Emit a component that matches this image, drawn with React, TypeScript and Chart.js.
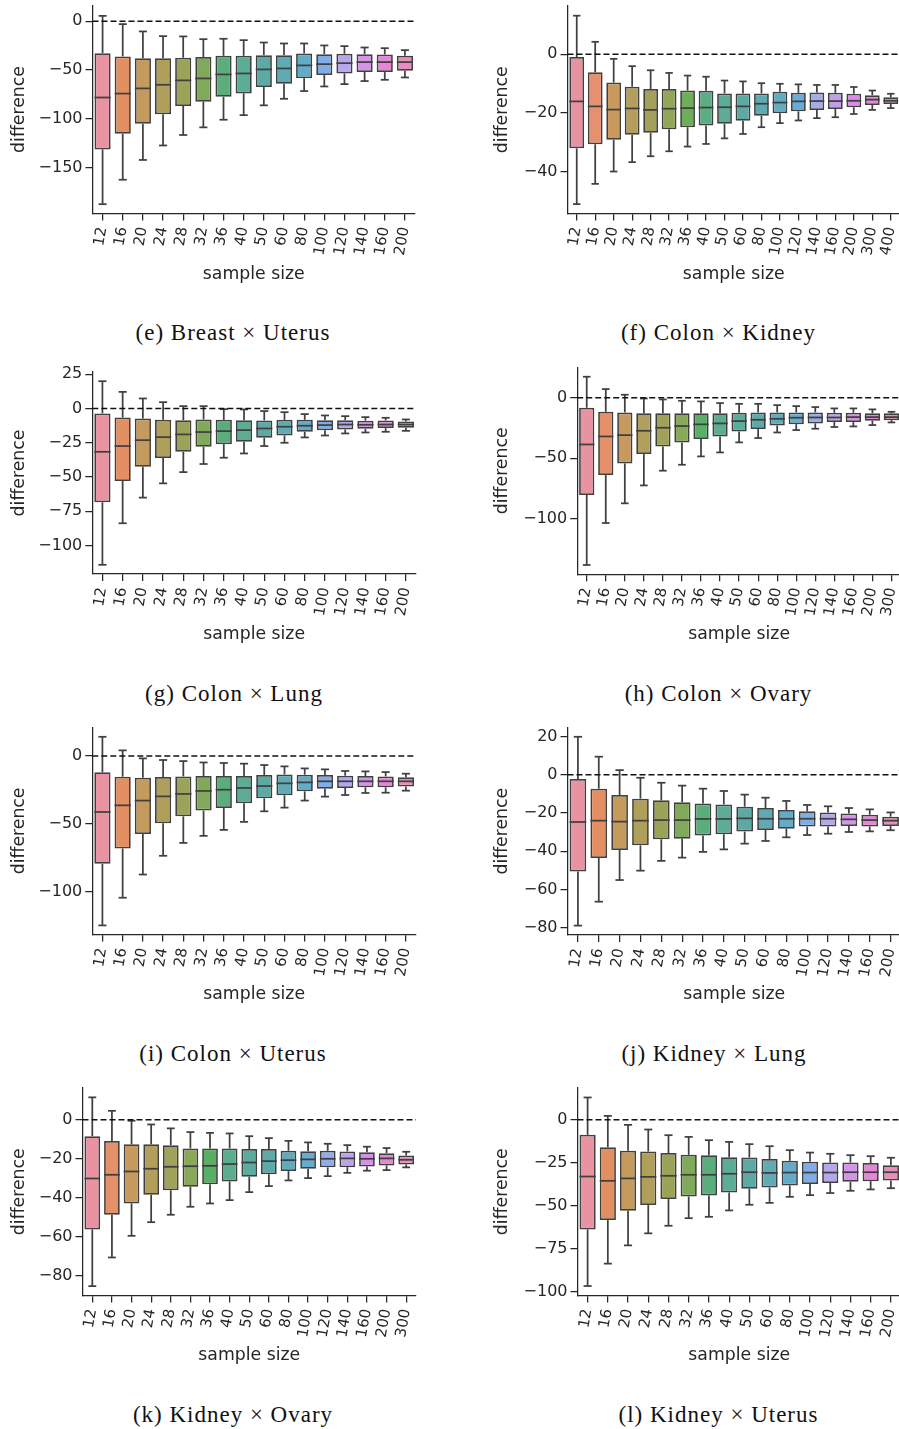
import React, { useEffect, useRef } from 'react';
import { Chart, registerables } from 'chart.js';

Chart.register(...registerables);

// ---------- categories ----------
const SIZES_16 = ['12', '16', '20', '24', '28', '32', '36', '40', '50', '60', '80', '100', '120', '140', '160', '200'];
const SIZES_17 = [...SIZES_16, '300'];
const SIZES_18 = [...SIZES_16, '300', '400'];

// ---------- (e) Breast x Uterus ----------
const E_HI = [5.4, -3, -10.5, -15.3, -15.6, -18.4, -18, -19.4, -21.8, -22.8, -22.8, -24.8, -25.5, -26.9, -27.6, -29.6];
const E_Q3 = [-32.7, -36, -37.8, -38, -37.4, -36.7, -35.4, -35.4, -34.7, -34.7, -33, -33.7, -33.3, -33.7, -34, -35.4];
const E_MED = [-78, -74, -68.7, -65, -60.5, -58.5, -54.4, -53.4, -49.3, -48.3, -45.2, -43.9, -42.9, -41.8, -41.8, -41.8];
const E_Q1 = [-131, -115, -104.8, -95, -86.7, -82.3, -77.2, -73.8, -67.3, -64, -58.2, -55.1, -53.4, -52, -52, -50.7];
const E_LO = [-187, -162, -141.8, -127, -116.3, -108.5, -100.7, -96, -86, -79.3, -71.4, -66.7, -64.3, -61.2, -59.9, -57.5];
const E_TICKS = [0, -50, -100, -150];

// ---------- (f) Colon x Kidney ----------
const F_HI = [13.1, 4.2, -1.6, -4.1, -5.5, -6.4, -7.3, -7.7, -9, -9.3, -9.9, -10.1, -10.3, -10.5, -10.5, -11.2, -12.4, -13.5];
const F_Q3 = [-1.0, -6.2, -9.7, -11.1, -11.9, -11.9, -12.4, -12.5, -13.4, -13.4, -13.4, -12.8, -13.2, -13.1, -13.2, -13.5, -14, -14.7];
const F_MED = [-16.1, -17.8, -18.9, -18.5, -19, -18.6, -18.4, -18.2, -18.1, -17.8, -16.9, -16.5, -16.1, -16, -16, -15.9, -15.5, -15.9];
const F_Q1 = [-32.1, -30.7, -29.2, -27.5, -26.8, -25.6, -24.9, -24.3, -23.7, -22.7, -21, -20.1, -19.5, -19, -18.7, -18.1, -17.3, -17];
const F_LO = [-51.1, -44.2, -40, -36.8, -34.8, -33.1, -31.5, -30.6, -28.7, -27.2, -24.9, -23.5, -22.6, -21.8, -21.5, -20.4, -19, -18.4];
const F_TICKS = [0, -20, -40];

// ---------- (g) Colon x Lung ----------
const G_HI = [19.9, 12.1, 7.3, 4.6, 1.7, 1.7, -0.5, -0.7, -1.9, -2.7, -4.1, -5.1, -5.6, -6.3, -6.8, -8];
const G_Q3 = [-3.6, -6.6, -7.3, -8.3, -8.5, -8, -8.3, -8.5, -8.7, -8.3, -8.3, -8.5, -8.5, -8.9, -8.7, -9.5];
const G_MED = [-31.6, -27.4, -23.1, -20.9, -18.9, -17.2, -16.5, -15.8, -14.6, -13.3, -12.6, -12.1, -11.7, -11.9, -11.7, -11.7];
const G_Q1 = [-68.4, -52.9, -42.5, -36.2, -31.6, -27.9, -26, -24.3, -21.4, -19.7, -17, -15.8, -15.3, -14.8, -14.3, -14.1];
const G_LO = [-114, -83.7, -65, -54.6, -46.4, -40.5, -35.9, -32.8, -27.4, -25, -21.1, -19.7, -18.2, -17.5, -17, -16.3];
const G_TICKS = [25, 0, -25, -50, -75, -100];

// ---------- (h) Colon x Ovary ----------
const H_HI = [17.4, 7.2, 2.5, -0.6, -1.4, -2.5, -3, -4.4, -5, -5, -6.1, -6.9, -7.7, -8.8, -8.8, -9.6, -11.6];
const H_Q3 = [-8.3, -11.6, -12.1, -12.9, -12.7, -12.7, -12.7, -12.9, -12.4, -12.1, -12.1, -12.1, -12.1, -12.4, -12.4, -12.9, -12.9];
const H_MED = [-38.6, -32, -30.9, -27.3, -24.8, -23.4, -22, -21.2, -19.3, -18.2, -17.4, -16.5, -16.3, -16.3, -16, -16, -16];
const H_Q1 = [-80.4, -63.9, -54.3, -46.6, -40.2, -36.9, -34.2, -32, -27.8, -25.9, -22.9, -21.8, -21.2, -20.1, -20.1, -19, -18.5];
const H_LO = [-138.3, -103.6, -87.3, -72.5, -60.3, -55.4, -48.5, -45.2, -36.9, -33.3, -28.7, -26.7, -25.6, -24.2, -23.7, -22.6, -20.4];
const H_TICKS = [0, -50, -100];

// ---------- (i) Colon x Uterus ----------
const I_HI = [14.2, 4.2, -1.7, -2.9, -3.7, -4.7, -5.1, -5.6, -6.6, -7.6, -9.1, -9.8, -11, -11.3, -11.8, -13];
const I_Q3 = [-12, -15.2, -15.9, -15.4, -15, -14.7, -14.7, -14.7, -14, -13.5, -13.7, -14, -14.5, -14.7, -15, -15.7];
const I_MED = [-41.2, -36.3, -32.8, -29.7, -27.9, -25.7, -24.8, -23.5, -22.1, -20.1, -19.4, -18.6, -18.6, -18.6, -18.6, -18.6];
const I_Q1 = [-79.4, -68.1, -57.4, -49.5, -44.4, -40.2, -38.2, -34.8, -31.1, -28.9, -26, -24, -23.5, -23, -23, -22.5];
const I_LO = [-124.8, -104.4, -87.3, -73.5, -64, -58.8, -54.4, -48.5, -40.7, -38, -32.8, -29.9, -28.7, -27.2, -27, -25.5];
const I_TICKS = [0, -50, -100];

// ---------- (j) Kidney x Lung ----------
const J_HI = [19.8, 9.4, 2.4, -1.6, -4.2, -5.7, -7.3, -8.5, -10.4, -12, -13.7, -15.8, -16.5, -17.4, -18.1, -19.7];
const J_Q3 = [-2.3, -7.3, -10.6, -12.5, -13.4, -14.4, -15, -15.5, -16.7, -17.4, -18.4, -19.1, -19.7, -20.3, -20.9, -21.9];
const J_MED = [-24.7, -24, -24.5, -24, -23.7, -23.7, -23.1, -23.1, -22.8, -23, -23, -23, -23, -23.3, -23.7, -24];
const J_Q1 = [-50.6, -43.5, -39.3, -36.9, -33.7, -33.4, -31.8, -31.1, -29.7, -28.9, -28.2, -27.1, -27.1, -26.8, -27, -26.8];
const J_LO = [-78.8, -66.3, -55, -50.1, -45, -43.3, -40.3, -39, -36, -34.6, -32.7, -31.5, -30.8, -29.9, -29.6, -29];
const J_TICKS = [20, 0, -20, -40, -60, -80];

// ---------- (k) Kidney x Ovary ----------
const K_HI = [11.5, 4.6, -0.5, -2.4, -4.4, -6.3, -6.7, -7, -8.4, -9.4, -10.8, -11.6, -12.3, -13, -13.8, -14.5, -16.4];
const K_Q3 = [-8.4, -10.9, -12.6, -12.6, -13, -14.7, -14.7, -14.7, -15, -15, -15.9, -16.1, -15.9, -16.2, -16.6, -17.1, -18.3];
const K_MED = [-30.1, -28.2, -26.5, -25.1, -24.1, -23.8, -23.6, -22.7, -21.9, -21.2, -20.7, -20.3, -20, -19.8, -20, -19.8, -20.5];
const K_Q1 = [-56.2, -48.7, -42.9, -38.5, -36.1, -34.4, -33, -31.6, -29.2, -27.9, -26.3, -25.1, -24.4, -24.3, -23.9, -23.4, -22.9];
const K_LO = [-85.3, -70.6, -59.5, -52.5, -48.7, -44.6, -42.9, -41.2, -37.1, -34, -31.1, -29.9, -28.9, -27.2, -26.1, -25.8, -24.4];
const K_TICKS = [0, -20, -40, -60, -80];

// ---------- (l) Kidney x Uterus ----------
const L_HI = [13, 2.3, -2.9, -5.6, -8.9, -9.9, -11.8, -12.8, -14.1, -15.3, -17.6, -19, -19.7, -20.5, -21.1, -22];
const L_Q3 = [-8.7, -15.9, -18, -18.4, -19.3, -20.3, -20.5, -21.7, -21.9, -22.8, -23.8, -24.4, -24.8, -24.8, -25.1, -26.3];
const L_MED = [-32.9, -35.4, -34, -33.1, -32.5, -31.9, -31.9, -31.3, -30.4, -30.8, -30.6, -30.6, -30.6, -30.4, -30.4, -30.4];
const L_Q1 = [-63.6, -58.2, -52.8, -49.5, -46, -44.5, -43.9, -42.2, -40, -39.3, -38.1, -37.3, -36.7, -36, -35.6, -35.2];
const L_LO = [-96.5, -83.5, -72.9, -65.9, -61.5, -57.1, -56.3, -52.6, -49.3, -48.2, -44.7, -43.7, -42.5, -41.2, -40.4, -39.7];
const L_TICKS = [0, -25, -50, -75, -100];

// ---------- style constants ----------
const FONT = 'DejaVu Sans';
const TEXT = '#262626';
const AXIS = '#262626';
const LW = 1.75;
const TITLE_SIZE = 17.3;
const TITLE_LH = TITLE_SIZE * 1.2;
const PAD_RIGHT = 2;
const LIGHTEN = 0.13;

// ---------- seaborn husl palette ----------
const HM = [[3.2406, -1.5372, -0.4986], [-0.9689, 1.8758, 0.0415], [0.0557, -0.204, 1.057]];
function maxChroma(L: number, H: number) {
  const hr = (H / 180) * Math.PI;
  const sinH = Math.sin(hr), cosH = Math.cos(hr);
  const sub1 = Math.pow(L + 16, 3) / 1560896;
  const sub2 = sub1 > 0.008856 ? sub1 : L / 903.3;
  let result = Infinity;
  for (const [m1, m2, m3] of HM) {
    const top = (0.99915 * m1 + 1.05122 * m2 + 1.1446 * m3) * sub2;
    const rb = 0.8633 * m3 - 0.17266 * m2;
    const lb = 0.12949 * m3 - 0.38848 * m1;
    const bottom = (rb * sinH + lb * cosH) * sub2;
    for (const t of [0, 1]) {
      const C = (L * (top - 1.05122 * t)) / (bottom + 0.17266 * sinH * t);
      if (C > 0 && C < result) result = C;
    }
  }
  return result;
}
function fInv(t: number) { const t3 = t * t * t; return t3 > 0.008856 ? t3 : (116 * t - 16) / 903.3; }
function fromLinear(c: number) { return c <= 0.0031308 ? 12.92 * c : 1.055 * Math.pow(c, 1 / 2.4) - 0.055; }
function huslToRgb(h: number, s: number, l: number): number[] {
  const C = (maxChroma(l, h) / 100) * s;
  const hr = (h / 180) * Math.PI;
  const U = Math.cos(hr) * C, V = Math.sin(hr) * C;
  const Y = fInv((l + 16) / 116);
  const vu = U / (13 * l) + 0.19784;
  const vv = V / (13 * l) + 0.46834;
  const X = -(9 * Y * vu) / ((vu - 4) * vv - vu * vv);
  const Z = (9 * Y - 15 * vv * Y - vv * X) / (3 * vv);
  return HM.map((r) => Math.min(1, Math.max(0, fromLinear(r[0] * X + r[1] * Y + r[2] * Z))));
}
function rgbToHls(r: number, g: number, b: number) {
  const maxc = Math.max(r, g, b), minc = Math.min(r, g, b);
  const l = (maxc + minc) / 2;
  if (maxc === minc) return [0, l, 0];
  const rc0 = maxc - minc;
  const s = l <= 0.5 ? rc0 / (maxc + minc) : rc0 / (2 - maxc - minc);
  const rc = (maxc - r) / rc0, gc = (maxc - g) / rc0, bc = (maxc - b) / rc0;
  let h = r === maxc ? bc - gc : g === maxc ? 2 + rc - bc : 4 + gc - rc;
  h = (((h / 6) % 1) + 1) % 1;
  return [h, l, s];
}
function hv(m1: number, m2: number, hue: number) {
  hue = ((hue % 1) + 1) % 1;
  if (hue < 1 / 6) return m1 + (m2 - m1) * hue * 6;
  if (hue < 0.5) return m2;
  if (hue < 2 / 3) return m1 + (m2 - m1) * (2 / 3 - hue) * 6;
  return m1;
}
function hlsToRgb(h: number, l: number, s: number) {
  if (s === 0) return [l, l, l];
  const m2 = l <= 0.5 ? l * (1 + s) : l + s - l * s;
  const m1 = 2 * l - m2;
  return [hv(m1, m2, h + 1 / 3), hv(m1, m2, h), hv(m1, m2, h - 1 / 3)];
}
const toHex = (c: number[]) => '#' + c.map((v) => Math.round(v * 255).toString(16).padStart(2, '0')).join('');
function boxColors(n: number) {
  const fills: string[] = [];
  let minL = 1;
  for (let i = 0; i < n; i++) {
    const hue = (((i / n) + 0.01) % 1) * 359;
    const rgb = huslToRgb(hue, 0.9 * 99, 0.65 * 99);
    const [h, l, s] = rgbToHls(rgb[0], rgb[1], rgb[2]);
    const d = hlsToRgb(h, l, s * 0.75);
    minL = Math.min(minL, rgbToHls(d[0], d[1], d[2])[1]);
    fills.push(toHex(d.map((v) => v + (1 - v) * LIGHTEN)));
  }
  const g = minL * 0.6;
  return { fills, edge: toHex([g, g, g]) };
}

// ---------- panel layout ----------
type PanelCfg = {
  caption: string; capX: number; capY: number;
  labels: string[]; lo: number[]; q1: number[]; med: number[]; q3: number[]; hi: number[];
  yTicks: number[]; yMin: number; yMax: number;
  col: number; L: number; T: number; R: number; B: number; xTitleY: number;
};

const PANELS: PanelCfg[] = [
  { caption: '(e) Breast × Uterus', capX: 233, capY: 333, labels: SIZES_16, lo: E_LO, q1: E_Q1, med: E_MED, q3: E_Q3, hi: E_HI, yTicks: E_TICKS, yMin: -196.5, yMax: 16, col: 0, L: 92.5, T: 5.5, R: 415, B: 213.5, xTitleY: 275 },
  { caption: '(f) Colon × Kidney', capX: 718.5, capY: 333, labels: SIZES_18, lo: F_LO, q1: F_Q1, med: F_MED, q3: F_Q3, hi: F_HI, yTicks: F_TICKS, yMin: -54.3, yMax: 16.4, col: 1, L: 567.5, T: 6, R: 900, B: 213.5, xTitleY: 275 },
  { caption: '(g) Colon × Lung', capX: 234, capY: 694, labels: SIZES_16, lo: G_LO, q1: G_Q1, med: G_MED, q3: G_Q3, hi: G_HI, yTicks: G_TICKS, yMin: -120.7, yMax: 26.6, col: 0, L: 92.3, T: 372, R: 416, B: 574, xTitleY: 635 },
  { caption: '(h) Colon × Ovary', capX: 718.5, capY: 694, labels: SIZES_17, lo: H_LO, q1: H_Q1, med: H_MED, q3: H_Q3, hi: H_HI, yTicks: H_TICKS, yMin: -146, yMax: 25.2, col: 1, L: 577.2, T: 367.3, R: 900.2, B: 574.3, xTitleY: 635 },
  { caption: '(i) Colon × Uterus', capX: 233, capY: 1054, labels: SIZES_16, lo: I_LO, q1: I_Q1, med: I_MED, q3: I_Q3, hi: I_HI, yTicks: I_TICKS, yMin: -131.5, yMax: 21.2, col: 0, L: 92.3, T: 727.3, R: 416, B: 934.5, xTitleY: 995 },
  { caption: '(j) Kidney × Lung', capX: 714, capY: 1054, labels: SIZES_16, lo: J_LO, q1: J_Q1, med: J_MED, q3: J_Q3, hi: J_HI, yTicks: J_TICKS, yMin: -83.7, yMax: 24.7, col: 1, L: 567.5, T: 727.4, R: 901, B: 935, xTitleY: 995 },
  { caption: '(k) Kidney × Ovary', capX: 233, capY: 1415, labels: SIZES_17, lo: K_LO, q1: K_Q1, med: K_MED, q3: K_Q3, hi: K_HI, yTicks: K_TICKS, yMin: -90.1, yMax: 16.3, col: 0, L: 82.5, T: 1088, R: 415.8, B: 1295.5, xTitleY: 1356 },
  { caption: '(l) Kidney × Uterus', capX: 718.5, capY: 1415, labels: SIZES_16, lo: L_LO, q1: L_Q1, med: L_MED, q3: L_Q3, hi: L_HI, yTicks: L_TICKS, yMin: -102, yMax: 18.5, col: 1, L: 577.5, T: 1088, R: 900.8, B: 1295.5, xTitleY: 1356 },
];

function Panel({ cfg }: { cfg: PanelCfg }) {
  const ref = useRef<HTMLCanvasElement>(null);
  const canvasLeft = cfg.col === 0 ? 0 : 445;
  const yTitleX = cfg.col === 0 ? 20 : 503;
  const padLeft = yTitleX - TITLE_LH / 2 - canvasLeft;
  const canvasTop = Math.floor(cfg.T - 8);
  const padTop = cfg.T - canvasTop;
  const W = Math.ceil(cfg.R + PAD_RIGHT - canvasLeft);
  const H = Math.round(cfg.xTitleY + TITLE_LH / 2 - canvasTop);

  useEffect(() => {
    const n = cfg.labels.length;
    const { fills, edge } = boxColors(n);
    const extras = {
      id: 'boxExtras',
      afterDatasetsDraw(chart: any) {
        const xs = chart.scales.x, ys = chart.scales.y, ctx = chart.ctx;
        const bin = xs.getPixelForValue(1) - xs.getPixelForValue(0);
        const bw = bin * 0.8, cw = bin * 0.4;
        ctx.save();
        ctx.strokeStyle = edge;
        ctx.lineWidth = LW;
        ctx.lineCap = 'butt';
        const seg = (x1: number, y1: number, x2: number, y2: number) => {
          ctx.beginPath(); ctx.moveTo(x1, y1); ctx.lineTo(x2, y2); ctx.stroke();
        };
        for (let i = 0; i < n; i++) {
          const cx = xs.getPixelForValue(i);
          const yHi = ys.getPixelForValue(cfg.hi[i]);
          const yLo = ys.getPixelForValue(cfg.lo[i]);
          seg(cx, ys.getPixelForValue(cfg.q3[i]), cx, yHi);
          seg(cx - cw / 2, yHi, cx + cw / 2, yHi);
          seg(cx, ys.getPixelForValue(cfg.q1[i]), cx, yLo);
          seg(cx - cw / 2, yLo, cx + cw / 2, yLo);
          const ym = ys.getPixelForValue(cfg.med[i]);
          seg(cx - bw / 2, ym, cx + bw / 2, ym);
        }
        const y0 = ys.getPixelForValue(0);
        ctx.strokeStyle = '#111';
        ctx.lineWidth = 1.5;
        ctx.setLineDash([6, 3]);
        seg(chart.chartArea.left, y0, chart.chartArea.right, y0);
        ctx.restore();
      },
    };
    const gridOpts = { display: true, offset: false, drawOnChartArea: false, drawTicks: true, tickLength: 7, color: AXIS, lineWidth: 1.25 };
    const borderOpts = { display: true, color: AXIS, width: 1.25 };
    const titleFont = { family: FONT, size: TITLE_SIZE, lineHeight: 1.2 };
    const chart = new Chart(ref.current as HTMLCanvasElement, {
      type: 'bar',
      data: {
        labels: cfg.labels,
        datasets: [
          {
            data: cfg.q1.map((v, i) => [v, cfg.q3[i]]) as any,
            backgroundColor: fills,
            borderColor: edge,
            borderWidth: LW,
            borderSkipped: false,
            barPercentage: 0.8,
            categoryPercentage: 1,
          },
        ],
      },
      options: {
        responsive: false,
        animation: false,
        devicePixelRatio: 1,
        events: [],
        layout: { padding: { left: padLeft, top: padTop, right: PAD_RIGHT, bottom: 0 } },
        plugins: { legend: { display: false }, tooltip: { enabled: false } },
        scales: {
          x: {
            type: 'category',
            offset: true,
            grid: gridOpts as any,
            border: borderOpts,
            ticks: { autoSkip: false, minRotation: 80, maxRotation: 80, padding: 5, color: TEXT, font: { family: FONT, size: 15 } },
            title: { display: true, text: 'sample size', color: TEXT, font: titleFont, padding: 0 },
            afterFit: (s: any) => {
              s.height = H - (cfg.B - canvasTop);
              s.paddingLeft = 0; s.paddingRight = 0; s.paddingTop = 0; s.paddingBottom = 0;
            },
          },
          y: {
            type: 'linear',
            min: cfg.yMin,
            max: cfg.yMax,
            afterBuildTicks: (s: any) => { s.ticks = cfg.yTicks.map((v) => ({ value: v })); },
            grid: gridOpts as any,
            border: borderOpts,
            ticks: {
              padding: 3,
              color: TEXT,
              font: { family: FONT, size: 16 },
              callback: (v: any) => String(v).replace('-', '\u2212'),
            },
            title: { display: true, text: 'difference', color: TEXT, font: titleFont, padding: 0 },
            afterFit: (s: any) => {
              s.width = cfg.L - canvasLeft - padLeft;
              s.paddingLeft = 0; s.paddingRight = 0; s.paddingTop = 0; s.paddingBottom = 0;
            },
          },
        },
      } as any,
      plugins: [extras],
    });
    return () => chart.destroy();
  }, []);

  return (
    <canvas
      ref={ref}
      width={W}
      height={H}
      style={{ position: 'absolute', left: canvasLeft, top: canvasTop, width: W, height: H }}
    />
  );
}

export default function App() {
  return (
    <div style={{ position: 'absolute', left: 0, top: 0, width: 899, height: 1429, overflow: 'hidden', background: '#fff' }}>
      {PANELS.map((p) => (
        <Panel key={p.caption} cfg={p} />
      ))}
      {PANELS.map((p) => (
        <div
          key={'cap' + p.caption}
          style={{
            position: 'absolute',
            left: p.capX - 200,
            top: p.capY - 12.2,
            width: 400,
            textAlign: 'center',
            fontFamily: '"Liberation Serif", serif',
            fontSize: 23,
            lineHeight: '24px',
            letterSpacing: '1px',
            color: '#111',
            whiteSpace: 'nowrap',
          }}
        >
          {p.caption}
        </div>
      ))}
    </div>
  );
}
